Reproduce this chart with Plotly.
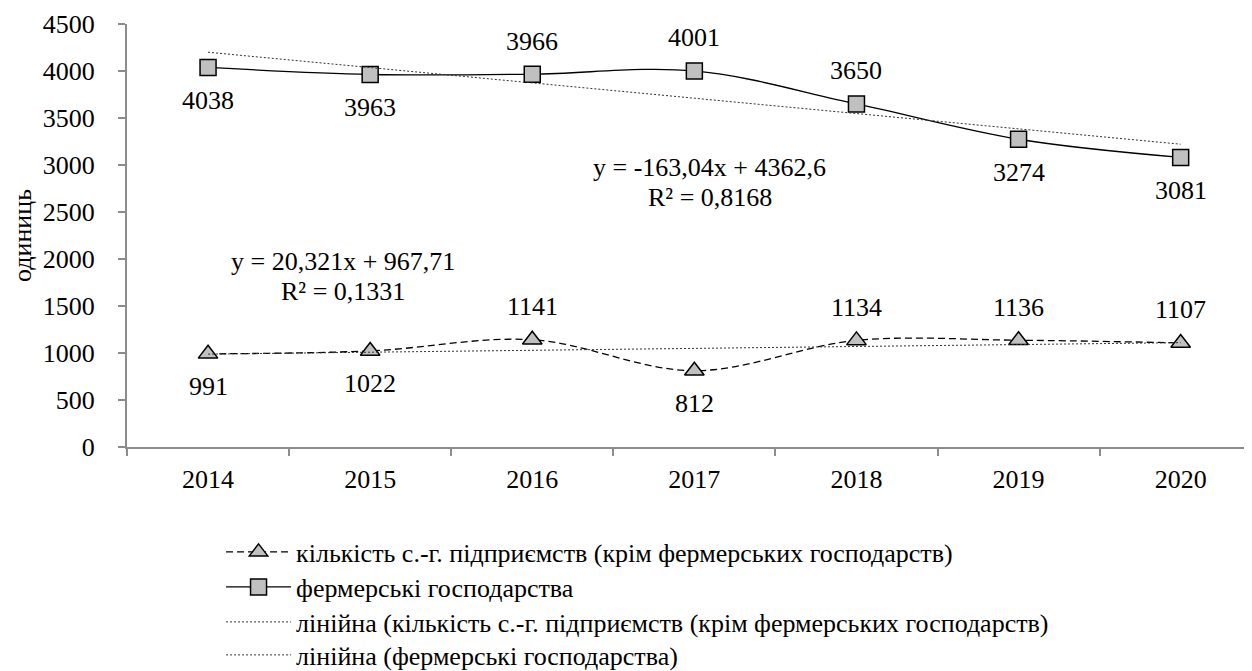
import numpy as np
import plotly.graph_objects as go

years = ["2014", "2015", "2016", "2017", "2018", "2019", "2020"]
enterprises = [991, 1022, 1141, 812, 1134, 1136, 1107]
farms = [4038, 3963, 3966, 4001, 3650, 3274, 3081]
ent_above = [False, False, True, False, True, True, True]
farm_above = [False, False, True, True, True, False, False]

name_ent = "кількість с.-г. підприємств (крім фермерських господарств)"
name_farm = "фермерські господарства"
name_tr_ent = "лінійна (кількість с.-г. підприємств (крім фермерських господарств)"
name_tr_farm = "лінійна (фермерські господарства)"

FONT = "Liberation Serif"
FS = 26
x = list(range(len(years)))
t = np.arange(1, len(years) + 1)
k_e, b_e = np.polyfit(t, enterprises, 1)
k_f, b_f = np.polyfit(t, farms, 1)

fig = go.Figure()
fig.add_trace(go.Scatter(
    x=x, y=enterprises, mode="lines+markers", name=name_ent, legend="legend",
    line=dict(color="black", width=1.3, dash="7px,4px", shape="spline"),
    marker=dict(symbol="triangle-up", size=17, color="#C0C0C0", line=dict(color="black", width=1.5))))
fig.add_trace(go.Scatter(
    x=x, y=farms, mode="lines+markers", name=name_farm, legend="legend2",
    line=dict(color="black", width=1.3, shape="spline"),
    marker=dict(symbol="square", size=16, color="#C0C0C0", line=dict(color="black", width=1.5))))
fig.add_trace(go.Scatter(
    x=x, y=k_e * t + b_e, mode="lines", name=name_tr_ent, legend="legend3",
    line=dict(color="#333333", width=1, dash="2px,2px")))
fig.add_trace(go.Scatter(
    x=x, y=k_f * t + b_f, mode="lines", name=name_tr_farm, legend="legend4",
    line=dict(color="#333333", width=1, dash="2px,2px")))

for series, above in ((enterprises, ent_above), (farms, farm_above)):
    for xi, v, a in zip(x, series, above):
        fig.add_annotation(x=xi, y=v, xref="x", yref="y", text=str(v), showarrow=False,
                           yshift=33 if a else -33, xanchor="center", yanchor="middle",
                           font=dict(family=FONT, size=FS, color="black"))

eqs = [
    (3.095, 2819, "y = -163,04x + 4362,6", "R² = 0,8168"),
    (0.835, 1819, "y = 20,321x + 967,71", "R² = 0,1331"),
]
for ex, ey, l1, l2 in eqs:
    fig.add_annotation(x=ex, y=ey, xref="x", yref="y", text=l1, showarrow=False, yshift=15,
                       xanchor="center", yanchor="middle", font=dict(family=FONT, size=FS, color="black"))
    fig.add_annotation(x=ex, y=ey, xref="x", yref="y", text=l2, showarrow=False, yshift=-15,
                       xanchor="center", yanchor="middle", font=dict(family=FONT, size=FS, color="black"))

def leg(yc):
    return dict(x=0.0836, y=yc, xanchor="left", yanchor="middle",
                font=dict(family=FONT, size=FS, color="black"),
                itemwidth=65, bgcolor="rgba(0,0,0,0)")

fig.update_layout(
    width=1244, height=663,
    margin=dict(l=119, r=0, t=16, b=224, autoexpand=False),
    paper_bgcolor="white", plot_bgcolor="white",
    font=dict(family=FONT, size=FS, color="black"),
    showlegend=True,
    legend=leg(-0.2482), legend2=leg(-0.3310), legend3=leg(-0.4137), legend4=leg(-0.4917),
    xaxis=dict(range=[-0.5, 6.44], tickvals=x, ticktext=years, ticks="", automargin=False,
               ticklabelstandoff=8,
               showline=True, linecolor="#8c8c8c", linewidth=2, showgrid=False, zeroline=False,
               tickfont=dict(family=FONT, size=FS, color="black"),
               minor=dict(tickvals=[i - 0.5 for i in range(len(years) + 1)], ticks="outside",
                          ticklen=7, tickcolor="#8c8c8c", tickwidth=2, showgrid=False)),
    yaxis=dict(range=[0, 4500], dtick=500, ticks="outside", ticklen=7, tickcolor="#8c8c8c", tickwidth=2,
               automargin=False, ticklabelstandoff=18,
               showline=True, linecolor="#8c8c8c", linewidth=2, showgrid=False, zeroline=False,
               tickfont=dict(family=FONT, size=FS, color="black"),
               title=dict(text="одиниць", font=dict(family=FONT, size=FS, color="black"), standoff=14)),
)
fig.write_html("out.html")
